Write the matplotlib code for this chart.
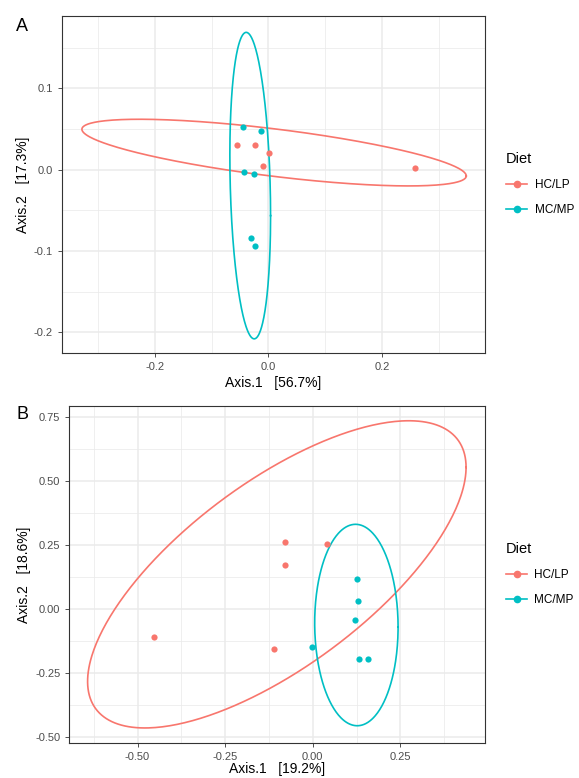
import numpy as np
import matplotlib
matplotlib.use("Agg")
import matplotlib.pyplot as plt
from matplotlib.lines import Line2D

plt.rcParams['font.family'] = ['Liberation Sans', 'DejaVu Sans']

groups = ["HC/LP", "MC/MP"]
colors = ["#F8766D", "#00BFC4"]

# Panel A data
a_hc_x = [-0.055, -0.023, 0.001, -0.009, 0.257]
a_hc_y = [0.030, 0.030, 0.020, 0.005, 0.002]
a_mc_x = [-0.044, -0.013, -0.043, -0.025, -0.031, -0.023]
a_mc_y = [0.053, 0.048, -0.003, -0.005, -0.084, -0.094]
# ellipse params: cx, cy, half x-extent, half y-extent, correlation
a_hc_ell = [0.010, 0.021, 0.338, 0.041, -0.70]
a_mc_ell = [-0.032, -0.0196, 0.0358, 0.1885, -0.196]

# Panel B data
b_hc_x = [-0.454, -0.111, -0.078, -0.078, 0.041]
b_hc_y = [-0.107, -0.155, 0.264, 0.173, 0.256]
b_mc_x = [0.127, 0.130, 0.120, -0.002, 0.133, 0.157]
b_mc_y = [0.118, 0.032, -0.043, -0.146, -0.193, -0.193]
b_hc_ell = [-0.1024, 0.1365, 0.540, 0.600, 0.697]
b_mc_ell = [0.1246, -0.0614, 0.119, 0.3934, -0.02]

a_xlabel = "Axis.1   [56.7%]"
a_ylabel = "Axis.2   [17.3%]"
b_xlabel = "Axis.1   [19.2%]"
b_ylabel = "Axis.2   [18.6%]"

def ellipse_xy(p):
    cx, cy, sx, sy, rho = p
    t = np.linspace(0, 2 * np.pi, 400)
    x = cx + sx * np.cos(t)
    y = cy + sy * (rho * np.cos(t) + np.sqrt(1 - rho ** 2) * np.sin(t))
    return x, y

fig = plt.figure(figsize=(5.79, 7.78), dpi=100)

def style(ax, xlim, ylim, xmaj, xmin, ymaj, ymin, xfmt, yfmt):
    ax.set_xlim(*xlim)
    ax.set_ylim(*ylim)
    ax.set_xticks(xmaj)
    ax.set_xticks(xmin, minor=True)
    ax.set_yticks(ymaj)
    ax.set_yticks(ymin, minor=True)
    ax.set_xticklabels([xfmt.format(v) for v in xmaj])
    ax.set_yticklabels([yfmt.format(v) for v in ymaj])
    ax.grid(True, which='major', color='#EBEBEB', lw=1.1, zorder=0)
    ax.grid(True, which='minor', color='#EBEBEB', lw=0.55, zorder=0)
    ax.set_axisbelow(True)
    for s in ax.spines.values():
        s.set_color('#333333')
        s.set_linewidth(0.8)
    ax.tick_params(which='major', length=3, width=0.6, color='#333333',
                   labelsize=8, labelcolor='#4D4D4D', pad=3.5)
    ax.tick_params(which='minor', length=0)

def panel(ax, hc, mc, ells, xlabel, ylabel, xpad):
    for (xs, ys), e, c in zip([hc, mc], ells, colors):
        ex, ey = ellipse_xy(e)
        ax.plot(ex, ey, color=c, lw=1.2, zorder=2)
        ax.scatter(xs, ys, s=20, color=c, zorder=3, linewidths=0)
    ax.set_xlabel(xlabel, fontsize=10, labelpad=xpad)
    ax.set_ylabel(ylabel, fontsize=10, labelpad=3)
    handles = [Line2D([], [], color=c, lw=1.2, marker='o', markersize=4.5) for c in colors]
    leg = ax.legend(handles, groups, loc='upper left', bbox_to_anchor=(1.025, 0.628),
                    frameon=False, title="Diet", fontsize=8.5, title_fontsize=10.5,
                    handlelength=1.8, handletextpad=0.6, labelspacing=1.1)
    leg._legend_box.align = "left"

axA = fig.add_axes([0.1071, 0.5463, 0.7306, 0.4331])
style(axA, (-0.363, 0.381), (-0.2255, 0.189),
      [-0.2, 0.0, 0.2], [-0.3, -0.1, 0.1, 0.3],
      [-0.2, -0.1, 0.0, 0.1], [-0.15, -0.05, 0.05, 0.15], "{:.1f}", "{:.1f}")
panel(axA, (a_hc_x, a_hc_y), (a_mc_x, a_mc_y), [a_hc_ell, a_mc_ell], a_xlabel, a_ylabel, 3)

axB = fig.add_axes([0.1197, 0.0454, 0.718, 0.4327])
style(axB, (-0.6946, 0.4917), (-0.521, 0.794),
      [-0.5, -0.25, 0.0, 0.25], [-0.625, -0.375, -0.125, 0.125, 0.375],
      [-0.5, -0.25, 0.0, 0.25, 0.5, 0.75], [-0.375, -0.125, 0.125, 0.375, 0.625], "{:.2f}", "{:.2f}")
panel(axB, (b_hc_x, b_hc_y), (b_mc_x, b_mc_y), [b_hc_ell, b_mc_ell], b_xlabel, b_ylabel, 0.5)

fig.text(0.028, 0.966, "A", fontsize=13, va='center', ha='left')
fig.text(0.028, 0.467, "B", fontsize=13, va='center', ha='left')

fig.savefig("out.png", dpi=100)
